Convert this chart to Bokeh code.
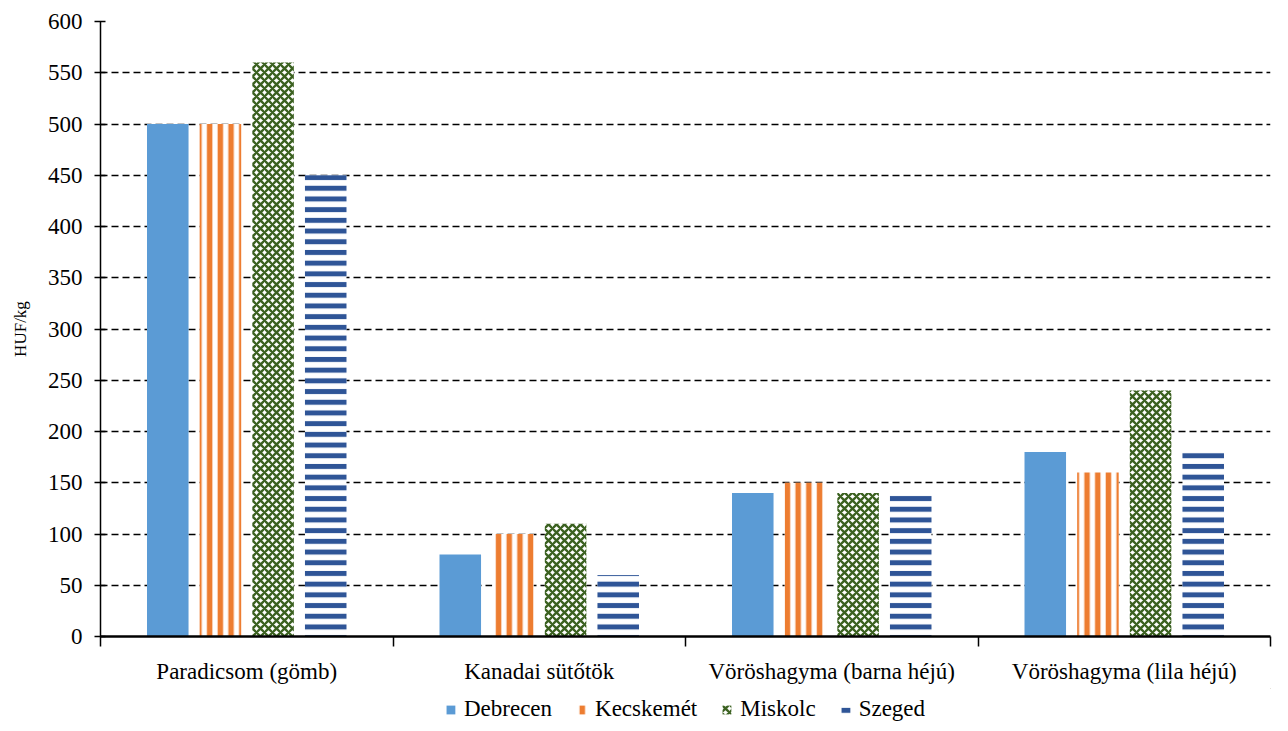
from bokeh.plotting import figure
from bokeh.models import Range1d, FixedTicker, Legend, LegendItem, ColumnDataSource
from bokeh.layouts import column
from bokeh.embed import file_html
from bokeh.resources import INLINE
import numpy as np

categories = ["Paradicsom (gömb)", "Kanadai sütőtök", "Vöröshagyma (barna héjú)", "Vöröshagyma (lila héjú)"]
cities = ["Debrecen", "Kecskemét", "Miskolc", "Szeged"]
debrecen = [500, 80, 140, 180]
kecskemet = [500, 100, 150, 160]
miskolc = [560, 110, 140, 240]
szeged = [450, 60, 140, 180]
y_ticks = [0, 50, 100, 150, 200, 250, 300, 350, 400, 450, 500, 550, 600]

series = [debrecen, kecskemet, miskolc, szeged]
styles = [
    dict(fill_color="#5B9BD5"),
    dict(fill_color="white", hatch_pattern="vertical_line", hatch_color="#ED7D31", hatch_scale=10.7, hatch_weight=5.5),
    dict(fill_color="white", hatch_pattern="diagonal_cross", hatch_color="#3B6120", hatch_scale=8, hatch_weight=2.3),
    dict(fill_color="white", hatch_pattern="horizontal_line", hatch_color="#2F5597", hatch_scale=10.7, hatch_weight=5),
]
offsets = [-0.27, -0.09, 0.09, 0.27]
bar_w = 0.142

FONT = "Liberation Serif"

p = figure(width=1272, height=688, output_backend="svg", toolbar_location=None,
           x_range=Range1d(0, 4), y_range=Range1d(0, 600),
           min_border_left=100, min_border_top=21, min_border_right=2, min_border_bottom=52)
p.outline_line_color = None
p.xgrid.visible = False
p.ygrid.grid_line_color = "black"
p.ygrid.grid_line_dash = "7 4"
p.ygrid.grid_line_width = 1.6
p.ygrid.ticker = FixedTicker(ticks=y_ticks[1:])

# legend strip below the chart
leg = figure(width=1272, height=42, output_backend="svg", toolbar_location=None,
             x_range=Range1d(-10, -9), y_range=Range1d(-10, -9),
             x_axis_type=None, y_axis_type=None,
             min_border_left=34, min_border_right=0, min_border_top=0, min_border_bottom=0)
leg.outline_line_color = None
leg.grid.visible = False

idx = np.arange(len(categories))
items = []
for name, vals, st, off in zip(cities, series, styles, offsets):
    src = ColumnDataSource(dict(x=idx + 0.5 + off, top=vals))
    p.vbar(x="x", top="top", width=bar_w, bottom=0, source=src, line_color=None, **st)
    r2 = leg.vbar(x="x", top="top", width=bar_w, bottom=0, source=src, line_color=None, **st)
    items.append(LegendItem(label=name, renderers=[r2]))

# y axis
p.yaxis.ticker = FixedTicker(ticks=y_ticks)
p.yaxis.axis_label = "HUF/kg"
p.yaxis.axis_label_text_font = FONT
p.yaxis.axis_label_text_font_style = "normal"
p.yaxis.axis_label_text_font_size = "17px"
p.yaxis.axis_label_text_color = "black"
p.yaxis.axis_label_standoff = 15
p.yaxis.major_label_text_font = FONT
p.yaxis.major_label_text_font_size = "23px"
p.yaxis.major_label_text_color = "black"
p.yaxis.major_label_standoff = 12
p.yaxis.major_tick_in = 5
p.yaxis.major_tick_out = 6
p.yaxis.minor_tick_line_color = None
p.yaxis.axis_line_width = 1.5
p.yaxis.major_tick_line_width = 1.5
p.yaxis.axis_line_color = "black"
p.yaxis.major_tick_line_color = "black"

# x axis
p.xaxis.ticker = FixedTicker(ticks=list(idx + 0.5), minor_ticks=list(range(len(categories) + 1)))
p.xaxis.major_label_overrides = {float(i + 0.5): c for i, c in enumerate(categories)}
p.xaxis.major_tick_in = 0
p.xaxis.major_tick_out = 0
p.xaxis.minor_tick_in = 0
p.xaxis.minor_tick_out = 10
p.xaxis.minor_tick_line_color = "black"
p.xaxis.minor_tick_line_width = 1.5
p.xaxis.axis_line_width = 2.5
p.xaxis.axis_line_color = "black"
p.xaxis.major_label_text_font = FONT
p.xaxis.major_label_text_font_size = "23px"
p.xaxis.major_label_text_color = "black"
p.xaxis.major_label_standoff = 12

legend = Legend(items=items, orientation="horizontal", location="center",
                label_text_font=FONT, label_text_font_size="23px", label_text_color="black",
                glyph_width=11, glyph_height=11, label_standoff=8, spacing=24,
                border_line_color=None, background_fill_alpha=0, padding=0, margin=0)
leg.add_layout(legend)

layout = column(p, leg, spacing=0)
open("out.html", "w").write(file_html(layout, INLINE))
